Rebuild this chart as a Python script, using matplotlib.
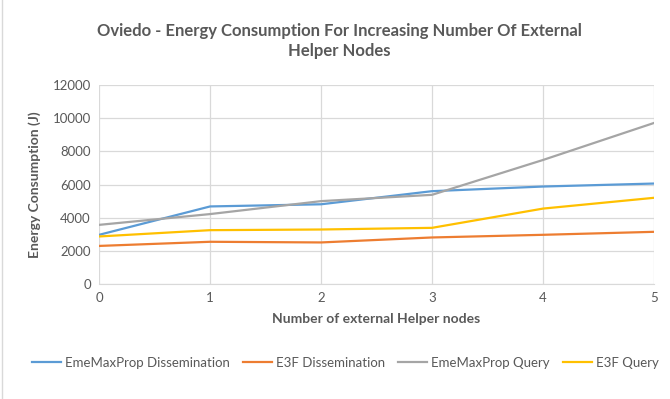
import matplotlib
matplotlib.use("Agg")
import matplotlib.pyplot as plt

plt.rcParams['font.family'] = ['Lato', 'DejaVu Sans']

nodes = [0, 1, 2, 3, 4, 5]
eme_dissemination = [2970, 4680, 4810, 5600, 5880, 6060]
e3f_dissemination = [2300, 2550, 2510, 2810, 2970, 3150]
eme_query = [3570, 4220, 5000, 5380, 7480, 9710]
e3f_query = [2870, 3250, 3290, 3390, 4550, 5200]
series_names = ['EmeMaxProp Dissemination', 'E3F Dissemination', 'EmeMaxProp Query', 'E3F Query']
colors = ['#5B9BD5', '#ED7D31', '#A5A5A5', '#FFC000']
text_color = '#595959'

fig = plt.figure(figsize=(6.7, 3.99), dpi=100)
ax = fig.add_axes([0.148, 0.288, 0.828, 0.499])

for vals, name, c in zip([eme_dissemination, e3f_dissemination, eme_query, e3f_query], series_names, colors):
    ax.plot(nodes, vals, color=c, lw=1.6, label=name)

ax.set_xlim(0, 5)
ax.set_ylim(0, 12000)
ax.set_yticks(range(0, 12001, 2000))
ax.set_xticks(nodes)
ax.grid(True, color='#D9D9D9', lw=0.9)
ax.set_axisbelow(True)
for s in ['top', 'right', 'left']:
    ax.spines[s].set_visible(False)
ax.spines['bottom'].set_color('#D9D9D9')
ax.tick_params(length=0, colors=text_color, labelsize=9.5, pad=6)

ax.set_xlabel('Number of external Helper nodes', fontsize=10, fontweight='bold', color=text_color, labelpad=6)
ax.set_ylabel('Energy Consumption (J)', fontsize=10, fontweight='bold', color=text_color, labelpad=8)

fig.text(0.506, 0.898, 'Oviedo - Energy Consumption For Increasing Number Of External\nHelper Nodes',
         ha='center', va='center', fontsize=12, fontweight='bold', color=text_color, linespacing=1.3)

fig.legend(loc='center', bbox_to_anchor=(0.515, 0.09), ncol=4, frameon=False, fontsize=9.5,
           labelcolor=text_color, handlelength=2.2, handletextpad=0.3, columnspacing=1.0)

fig.patches.append(plt.Rectangle((0.003, -0.1), 1.2, 1.2, transform=fig.transFigure,
                                 fill=False, edgecolor='#D9D9D9', lw=1))

fig.savefig('out.png', dpi=100)
